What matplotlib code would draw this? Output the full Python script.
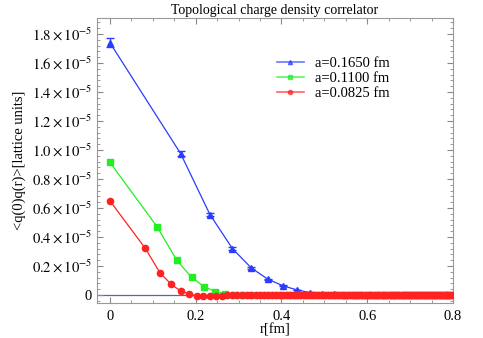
import matplotlib
matplotlib.use("Agg")
import matplotlib.pyplot as plt
from matplotlib.lines import Line2D
from matplotlib.ticker import MultipleLocator, FixedLocator, FixedFormatter

plt.rcParams['font.family'] = ['Liberation Serif', 'DejaVu Serif']
plt.rcParams['mathtext.fontset'] = 'stix'

# r in fm, correlator in units of 1e-5 (lattice units)
r_165 = [0.0, 0.165, 0.2333, 0.2858, 0.33, 0.369, 0.4042, 0.4365, 0.4667, 0.495,
         0.5218, 0.5472, 0.5715, 0.5949, 0.6174, 0.639, 0.66, 0.680, 0.700, 0.719,
         0.738, 0.756, 0.774, 0.791]
c_165 = [1.740, 0.975, 0.555, 0.320, 0.186, 0.108, 0.063, 0.035, 0.017, 0.008,
         0.004, 0.002, 0.001, 0.0, 0.0, 0.0, 0.0, 0.0, 0.0, 0.0,
         0.0, 0.0, 0.0, 0.0]
e_165 = [0.030, 0.015, 0.010, 0.008, 0.005, 0.004, 0.003, 0.002, 0.002, 0.001,
         0.001, 0.001, 0.001, 0.001, 0.001, 0.001, 0.001, 0.001, 0.001, 0.001,
         0.001, 0.001, 0.001, 0.001]

r_110 = [0.0, 0.11, 0.1556, 0.1905, 0.22, 0.246, 0.2694, 0.291, 0.311, 0.33,
         0.348, 0.365, 0.381, 0.397, 0.412, 0.426, 0.44, 0.454, 0.467, 0.479,
         0.492, 0.504, 0.516, 0.528, 0.539, 0.55, 0.561, 0.572, 0.582, 0.592,
         0.602, 0.612, 0.622, 0.632, 0.641, 0.651, 0.66, 0.669, 0.678, 0.687,
         0.696, 0.704, 0.713, 0.721, 0.73, 0.738, 0.746, 0.754, 0.762, 0.770,
         0.778, 0.786, 0.793]
c_110 = [0.915, 0.471, 0.241, 0.122, 0.057, 0.023, 0.008, 0.002, 0.0, -0.001,
         -0.001, -0.001, 0.0, 0.0, 0.0, 0.0, 0.0, 0.0, 0.0, 0.0,
         0.0, 0.0, 0.0, 0.0, 0.0, 0.0, 0.0, 0.0, 0.0, 0.0,
         0.0, 0.0, 0.0, 0.0, 0.0, 0.0, 0.0, 0.0, 0.0, 0.0,
         0.0, 0.0, 0.0, 0.0, 0.0, 0.0, 0.0, 0.0, 0.0, 0.0,
         0.0, 0.0, 0.0]

r_0825 = [0.0, 0.0825, 0.1167, 0.1429, 0.165, 0.1845, 0.2021, 0.2183, 0.2333, 0.2475,
          0.2609, 0.2736, 0.2858, 0.2975, 0.3087, 0.3195, 0.33, 0.340, 0.350, 0.360,
          0.369, 0.378, 0.387, 0.396, 0.404, 0.412, 0.421, 0.429, 0.437, 0.444,
          0.452, 0.459, 0.467, 0.474, 0.481, 0.488, 0.495, 0.502, 0.509, 0.515,
          0.522, 0.528, 0.535, 0.541, 0.547, 0.553, 0.559, 0.566, 0.572, 0.578,
          0.583, 0.589, 0.595, 0.601, 0.606, 0.612, 0.617, 0.623, 0.628, 0.634,
          0.639, 0.644, 0.650, 0.655, 0.660, 0.665, 0.670, 0.675, 0.680, 0.685,
          0.690, 0.695, 0.700, 0.705, 0.709, 0.714, 0.719, 0.724, 0.728, 0.733,
          0.738, 0.742, 0.747, 0.751, 0.756, 0.760, 0.765, 0.769, 0.774, 0.778,
          0.783, 0.787, 0.791, 0.795, 0.800]
c_0825 = [0.650, 0.322, 0.154, 0.074, 0.028, 0.008, -0.005, -0.008, -0.007, -0.005,
          -0.004, -0.003, -0.002, -0.002, -0.001, -0.001, -0.001, 0.0, 0.0, 0.0,
          0.0, 0.0, 0.0, 0.0, 0.0, 0.0, 0.0, 0.0, 0.0, 0.0,
          0.0, 0.0, 0.0, 0.0, 0.0, 0.0, 0.0, 0.0, 0.0, 0.0,
          0.0, 0.0, 0.0, 0.0, 0.0, 0.0, 0.0, 0.0, 0.0, 0.0,
          0.0, 0.0, 0.0, 0.0, 0.0, 0.0, 0.0, 0.0, 0.0, 0.0,
          0.0, 0.0, 0.0, 0.0, 0.0, 0.0, 0.0, 0.0, 0.0, 0.0,
          0.0, 0.0, 0.0, 0.0, 0.0, 0.0, 0.0, 0.0, 0.0, 0.0,
          0.0, 0.0, 0.0, 0.0, 0.0, 0.0, 0.0, 0.0, 0.0, 0.0,
          0.0, 0.0, 0.0, 0.0, 0.0]

labels = ['a=0.1650 fm', 'a=0.1100 fm', 'a=0.0825 fm']
colors = ['#2a3cff', '#22ee22', '#ff2222']
markers = ['^', 's', 'o']

y_ticks = [0, 0.2, 0.4, 0.6, 0.8, 1.0, 1.2, 1.4, 1.6, 1.8]
y_labels = ['0'] + [r'$%.1f\times10^{-5}$' % v for v in y_ticks[1:]]

fig = plt.figure(figsize=(4.83, 3.38), dpi=100)
ax = fig.add_axes([97 / 483, 35 / 338, 356 / 483, 285 / 338])

ax.axhline(0, color='#5a64a8', lw=0.9, zorder=1)

s = 1e-5
ax.errorbar(r_165, [v * s for v in c_165], yerr=[v * s for v in e_165],
            color=colors[0], lw=0.9, marker=markers[0], ms=4, capsize=3,
            elinewidth=0.9, zorder=3)
ax.plot(r_110, [v * s for v in c_110], color=colors[1], lw=0.9, marker=markers[1],
        ms=4, zorder=4)
ax.plot(r_0825, [v * s for v in c_0825], color=colors[2], lw=0.9, marker=markers[2],
        ms=4.5, zorder=5)

ax.set_xlim(-0.03, 0.8)
ax.set_ylim(-0.055e-5, 1.91e-5)

ax.xaxis.set_major_locator(FixedLocator([0, 0.2, 0.4, 0.6, 0.8]))
ax.xaxis.set_major_formatter(FixedFormatter(['0', '0.2', '0.4', '0.6', '0.8']))
ax.xaxis.set_minor_locator(MultipleLocator(0.05))
ax.yaxis.set_major_locator(FixedLocator([v * s for v in y_ticks]))
ax.yaxis.set_major_formatter(FixedFormatter(y_labels))
ax.yaxis.set_minor_locator(MultipleLocator(0.04e-5))

ax.tick_params(which='both', direction='in', top=True, right=True, colors='#888888',
               labelcolor='black', labelsize=10.5)
ax.tick_params(which='major', length=4, width=0.8)
ax.tick_params(which='minor', length=2, width=0.6)
ax.tick_params(axis='x', pad=5)
for sp in ax.spines.values():
    sp.set_color('#999999')

ax.set_title('Topological charge density correlator', fontsize=10, pad=3)
ax.set_xlabel('r[fm]', fontsize=10.5, labelpad=0)
ax.set_ylabel('<q(0)q(r)>[lattice units]', fontsize=10.5, labelpad=4)

handles = [Line2D([], [], color=c, marker=m, ms=3, lw=1.2, alpha=0.7)
           for c, m in zip(colors, markers)]
ax.legend(handles, labels, loc='upper left', bbox_to_anchor=(0.49, 0.885),
          frameon=False, fontsize=10.5, handlelength=1.8, labelspacing=0.12,
          borderaxespad=0)

fig.savefig('out.png', dpi=100)
